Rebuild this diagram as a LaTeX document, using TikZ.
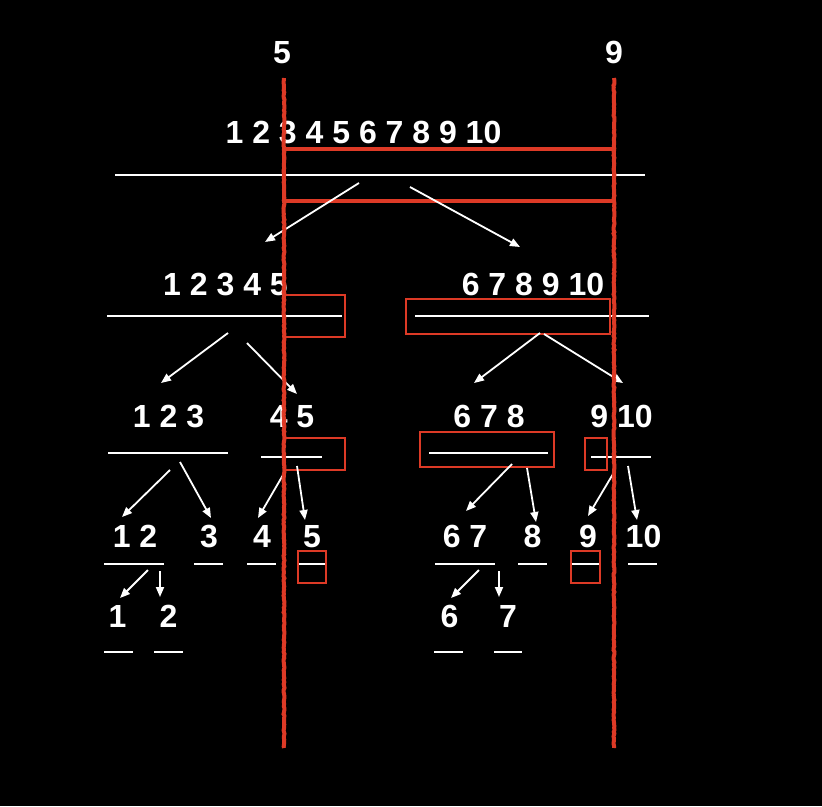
\documentclass[tikz,border=0pt]{standalone}
\usepackage{fontspec}
\setmainfont{Liberation Sans}
\usetikzlibrary{arrows.meta,decorations.pathmorphing}
\definecolor{redline}{RGB}{221,58,38}
\begin{document}
\begin{tikzpicture}[x=1pt,y=-1pt,
  num/.style={text=white, font=\fontsize{32}{38}\selectfont\bfseries, anchor=base, inner sep=0pt},
  bar/.style={draw=white, line width=2pt},
  arr/.style={draw=white, line width=1.8pt, -{Triangle[length=10pt,width=8pt]}},
  redv/.style={draw=redline, line width=4pt, decorate, decoration={random steps, segment length=2pt, amplitude=0.5pt}},
  redbig/.style={draw=redline, line width=4pt},
  redbox/.style={draw=redline, line width=2.4pt},
]
\fill[black] (0,0) rectangle (822,806);
\path[use as bounding box] (0,0) rectangle (822,806);

% labels on top
\node[num] (l5) at (282,63) {5};
\node[num] (l9) at (614,63) {9};

% row 1
\node[num] (r1) at (363.5,143) {1 2 3 4 5 6 7 8 9 10};
\coordinate (b1a) at (115,175); \coordinate (b1b) at (645,175);
\draw[bar] (b1a) -- (b1b);
\draw[redbig] (284,149) rectangle (614,201);
\coordinate (a1s) at (359,183); \coordinate (a1e) at (265,242);
\coordinate (a2s) at (410,187); \coordinate (a2e) at (520,247);
\draw[arr] (a1s) -- (a1e);
\draw[arr] (a2s) -- (a2e);

% row 2
\node[num] (r2a) at (225.5,295) {1 2 3 4 5};
\node[num] (r2b) at (533,295) {6 7 8 9 10};
\coordinate (b2a) at (107,316); \coordinate (b2b) at (342,316);
\coordinate (b2c) at (415,316); \coordinate (b2d) at (649,316);
\draw[bar] (b2a) -- (b2b);
\draw[bar] (b2c) -- (b2d);
\draw[redbox] (284,295) rectangle (345,337);
\draw[redbox] (406,299) rectangle (610,334);
\coordinate (a3s) at (228,333); \coordinate (a3e) at (161,383);
\coordinate (a4s) at (247,343); \coordinate (a4e) at (297,394);
\coordinate (a5s) at (540,333); \coordinate (a5e) at (474,383);
\coordinate (a6s) at (544,334); \coordinate (a6e) at (623,383);
\draw[arr] (a3s) -- (a3e);
\draw[arr] (a4s) -- (a4e);
\draw[arr] (a5s) -- (a5e);
\draw[arr] (a6s) -- (a6e);

% row 3
\node[num] (r3a) at (168.5,427) {1 2 3};
\node[num] (r3b) at (292,427) {4 5};
\node[num] (r3c) at (489,427) {6 7 8};
\node[num] (r3d) at (621.5,427) {9 10};
\draw[bar] (108,453) -- (228,453);
\draw[bar] (261,457) -- (322,457);
\draw[bar] (429,453) -- (548,453);
\draw[bar] (591,457) -- (651,457);
\draw[redbox] (284,438) rectangle (345,470);
\draw[redbox] (420,432) rectangle (554,467);
\draw[redbox] (585,438) rectangle (607,470);
\coordinate (a7s) at (170,470); \coordinate (a7e) at (122,517);
\coordinate (a8s) at (180,462); \coordinate (a8e) at (211,518);
\coordinate (a9s) at (283,475); \coordinate (a9e) at (258,518);
\coordinate (a10s) at (297,466); \coordinate (a10e) at (305,520);
\coordinate (a11s) at (512,464); \coordinate (a11e) at (466,511);
\coordinate (a12s) at (527,468); \coordinate (a12e) at (536,522);
\coordinate (a13s) at (613,474); \coordinate (a13e) at (588,516);
\coordinate (a14s) at (628,466); \coordinate (a14e) at (637,520);
\foreach \i in {7,...,14} {\draw[arr] (a\i s) -- (a\i e);}

% row 4
\node[num] (r4a) at (135,547) {1 2};
\node[num] (r4b) at (209,547) {3};
\node[num] (r4c) at (262,547) {4};
\node[num] (r4d) at (312,547) {5};
\node[num] (r4e) at (465,547) {6 7};
\node[num] (r4f) at (532.5,547) {8};
\node[num] (r4g) at (588,547) {9};
\node[num] (r4h) at (643.5,547) {10};
\draw[bar] (104,564) -- (164,564);
\draw[bar] (194,564) -- (223,564);
\draw[bar] (247,564) -- (276,564);
\draw[bar] (299,564) -- (325,564);
\draw[bar] (435,564) -- (495,564);
\draw[bar] (518,564) -- (547,564);
\draw[bar] (572,564) -- (601,564);
\draw[bar] (628,564) -- (657,564);
\draw[redbox] (298,551) rectangle (326,583);
\draw[redbox] (571,551) rectangle (600,583);
\coordinate (a15s) at (148,570); \coordinate (a15e) at (120,598);
\coordinate (a16s) at (160,571); \coordinate (a16e) at (160,597);
\coordinate (a17s) at (479,570); \coordinate (a17e) at (451,598);
\coordinate (a18s) at (499,571); \coordinate (a18e) at (499,597);
\foreach \i in {15,...,18} {\draw[arr] (a\i s) -- (a\i e);}

% row 5
\node[num] (r5a) at (117.5,627) {1};
\node[num] (r5b) at (168.5,627) {2};
\node[num] (r5c) at (449.5,627) {6};
\node[num] (r5d) at (508,627) {7};
\draw[bar] (104,652) -- (133,652);
\draw[bar] (154,652) -- (183,652);
\draw[bar] (434,652) -- (463,652);
\draw[bar] (494,652) -- (522,652);

% red vertical lines
\coordinate (v5t) at (284,78); \coordinate (v5b) at (284,748);
\coordinate (v9t) at (614,78); \coordinate (v9b) at (614,748);
\draw[redv] (v5t) -- (v5b);
\draw[redv] (v9t) -- (v9b);
\end{tikzpicture}
\end{document}
